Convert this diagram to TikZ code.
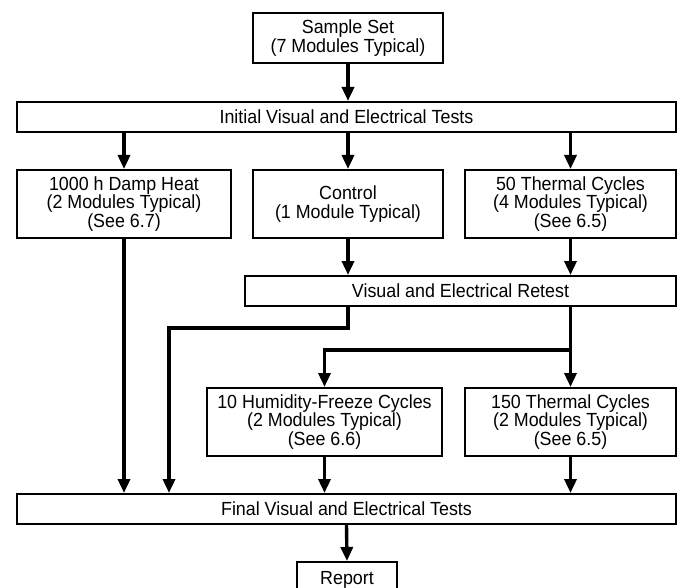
\documentclass[tikz,border=0pt]{standalone}
\usepackage{fontspec}
\setmainfont{Liberation Sans}[FakeStretch=0.94]
\usetikzlibrary{calc}
\usetikzlibrary{arrows.meta}
\tikzset{box/.style={draw, line width=2pt, inner sep=0pt, align=center, font=\fontsize{19}{18.8}\selectfont}}
\tikzset{flow/.style={line width=3.4pt, ->, >={Triangle[length=14pt,width=12pt]}}}

\begin{document}
\begin{tikzpicture}[x=1pt, y=-1pt]
\useasboundingbox (0,0) rectangle (677,588);
\node[box, minimum width=190pt, minimum height=50pt] (sample) at (348,38) {Sample Set\\(7 Modules Typical)};
\node[box, minimum width=659pt, minimum height=30pt] (initial) at (346.5,117) {Initial Visual and Electrical Tests};
\node[box, minimum width=214pt, minimum height=68pt] (damp) at (124,204) {1000 h Damp Heat\\(2 Modules Typical)\\(See 6.7)};
\node[box, minimum width=190pt, minimum height=68pt] (control) at (348,204) {Control\\(1 Module Typical)};
\node[box, minimum width=211pt, minimum height=68pt] (tcfifty) at (570.5,204) {50 Thermal Cycles\\(4 Modules Typical)\\(See 6.5)};
\node[box, minimum width=431pt, minimum height=30pt] (retest) at (460.5,291) {Visual and Electrical Retest};
\node[box, minimum width=235pt, minimum height=68pt] (humid) at (324.5,422) {10 Humidity-Freeze Cycles\\(2 Modules Typical)\\(See 6.6)};
\node[box, minimum width=211pt, minimum height=68pt] (tcfifteen) at (570.5,422) {150 Thermal Cycles\\(2 Modules Typical)\\(See 6.5)};
\node[box, minimum width=659pt, minimum height=30pt] (final) at (346.5,509) {Final Visual and Electrical Tests};
\node[box, minimum width=100pt, minimum height=36pt] (report) at (347,580) {Report};

\coordinate (lbend) at (169,328);
\path (tcfifty.south |- 0,350) coordinate (split);

\draw[flow] (sample.south) -- (sample.south |- initial.north);
\foreach \b in {damp,control,tcfifty} {
 \draw[flow] (initial.south -| \b.north) -- (\b.north);
}
\draw[flow] (control.south) -- (control.south |- retest.north);
\draw[flow] (tcfifty.south) -- (tcfifty.south |- retest.north);
\draw[flow] (damp.south) -- (damp.south |- final.north);
\draw[flow] (retest.south -| control.south) |- (lbend) -- (lbend |- final.north);
\draw[flow] (retest.south -| tcfifty.south) -- (tcfifteen.north);
\draw[flow] (split) -| (humid.north);
\draw[flow] (humid.south) -- (humid.south |- final.north);
\draw[flow] (tcfifteen.south) -- (tcfifteen.south |- final.north);
\draw[flow] (final.south) -- (report.north);
\end{tikzpicture}
\end{document}
